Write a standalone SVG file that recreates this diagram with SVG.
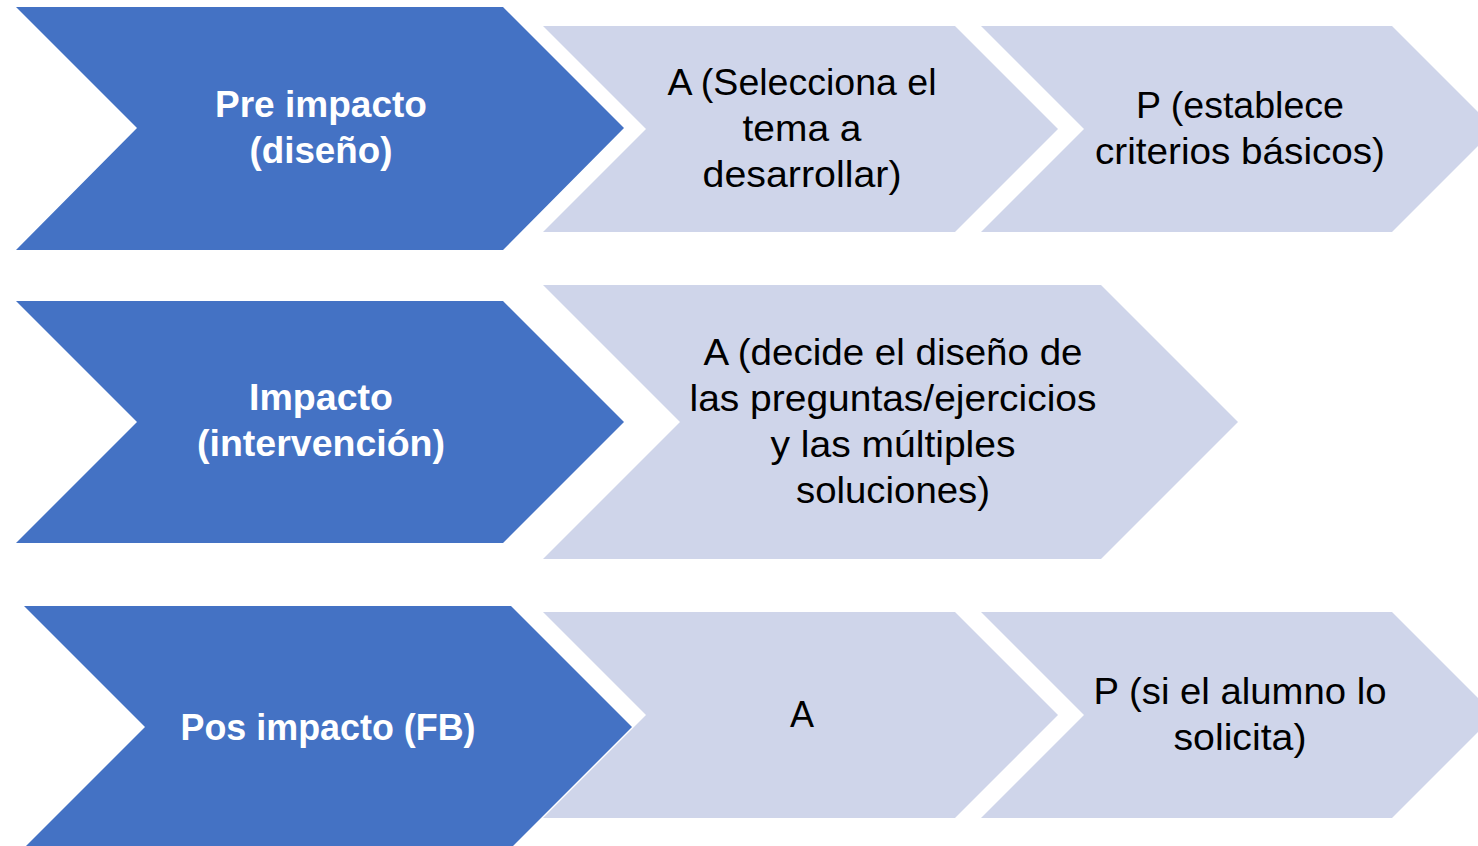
<svg xmlns="http://www.w3.org/2000/svg" width="1478" height="846" viewBox="0 0 1478 846">
<style>
.dark{fill:#4472C4}
.light{fill:#CFD5EA}
.tw{font-family:"Liberation Sans",Arial,sans-serif;font-size:36px;font-weight:bold;fill:#FFFFFF;text-anchor:middle}
.tb{font-family:"Liberation Sans",Arial,sans-serif;font-size:36px;fill:#000000;text-anchor:middle}
</style>
<rect width="1478" height="846" fill="#FFFFFF"/>
<g id="row1-phase">
<polygon class="dark" points="16,7 503,7 624,128 503,250 16,250 137,128"/>
<text class="tw" x="321" y="117" textLength="212" lengthAdjust="spacingAndGlyphs">Pre impacto</text>
<text class="tw" x="321" y="163" textLength="143" lengthAdjust="spacingAndGlyphs">(diseño)</text>
</g>
<g id="row1-a">
<polygon class="light" points="543,26 955,26 1058,129 955,232 543,232 646,129"/>
<text class="tb" x="802" y="95" textLength="269" lengthAdjust="spacingAndGlyphs">A (Selecciona el</text>
<text class="tb" x="802" y="141" textLength="119" lengthAdjust="spacingAndGlyphs">tema a</text>
<text class="tb" x="802" y="187" textLength="199" lengthAdjust="spacingAndGlyphs">desarrollar)</text>
</g>
<g id="row1-p">
<polygon class="light" points="981,26 1392,26 1495,129 1392,232 981,232 1084,129"/>
<text class="tb" x="1240" y="118" textLength="208" lengthAdjust="spacingAndGlyphs">P (establece</text>
<text class="tb" x="1240" y="164" textLength="290" lengthAdjust="spacingAndGlyphs">criterios básicos)</text>
</g>
<g id="row2-phase">
<polygon class="dark" points="16,301 503,301 624,422 503,543 16,543 137,422"/>
<text class="tw" x="321" y="410" textLength="144" lengthAdjust="spacingAndGlyphs">Impacto</text>
<text class="tw" x="321" y="456" textLength="248" lengthAdjust="spacingAndGlyphs">(intervención)</text>
</g>
<g id="row2-a">
<polygon class="light" points="543,285 1101,285 1238,422 1101,559 543,559 680,422"/>
<text class="tb" x="893" y="365" textLength="379" lengthAdjust="spacingAndGlyphs">A (decide el diseño de</text>
<text class="tb" x="893" y="411" textLength="407" lengthAdjust="spacingAndGlyphs">las preguntas/ejercicios</text>
<text class="tb" x="893" y="457" textLength="245" lengthAdjust="spacingAndGlyphs">y las múltiples</text>
<text class="tb" x="893" y="503" textLength="194" lengthAdjust="spacingAndGlyphs">soluciones)</text>
</g>
<g id="row3-phase">
<polygon class="dark" points="24,606 511,606 632,727 511,848 24,848 145,727"/>
<text class="tw" x="328" y="740" textLength="295" lengthAdjust="spacingAndGlyphs">Pos impacto (FB)</text>
</g>
<g id="row3-a">
<polygon class="light" points="543,612 955,612 1058,715 955,818 543,818 646,715"/>
<text class="tb" x="802" y="727">A</text>
</g>
<g id="row3-p">
<polygon class="light" points="981,612 1392,612 1495,715 1392,818 981,818 1084,715"/>
<text class="tb" x="1240" y="704" textLength="293" lengthAdjust="spacingAndGlyphs">P (si el alumno lo</text>
<text class="tb" x="1240" y="750" textLength="133" lengthAdjust="spacingAndGlyphs">solicita)</text>
</g>
<g id="connectors"></g>
</svg>
